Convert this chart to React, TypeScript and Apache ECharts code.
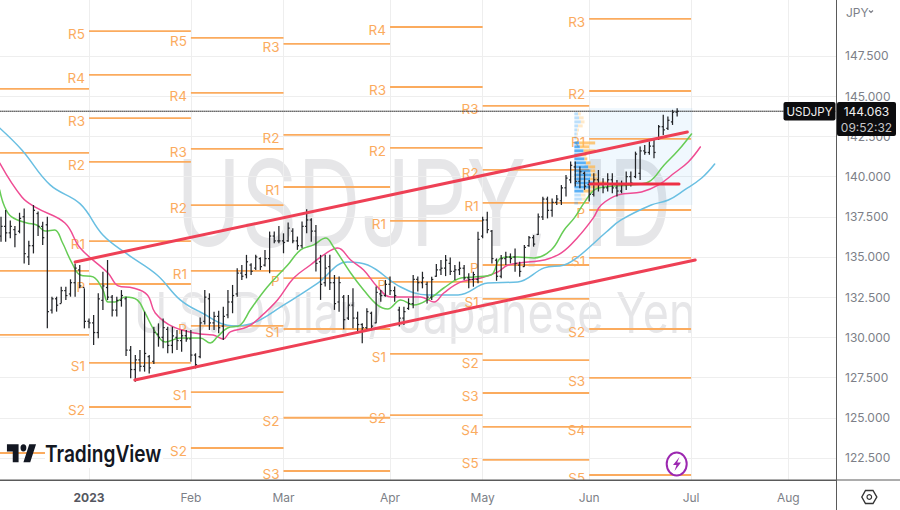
import React, { useEffect, useRef } from "react";
import * as echarts from "echarts";

const firstBar = -19;
const barOpen = [136.3,136.9,136.5,136.7,136.6,137.5,135.0,135.7,137.7,136.9,137.0,131.7,132.4,132.1,132.9,132.7,133.4,134.2,133.1,
131.0,130.9,130.3,132.3,133.1,132.5,131.7,132.3,132.4,129.2,128.0,128.6,128.2,128.8,128.5,130.2,130.0,130.5,129.5,130.0,129.8,130.1,129.9,128.9,128.8,
131.0,132.4,130.9,131.3,130.7,131.4,132.2,132.7,134.0,133.9,134.5,134.3,134.9,134.5,134.9,136.3,136.0,136.0,136.0,136.6,136.0,135.7,136.9,137.3,136.6,134.7,133.4,134.4,133.4,132.2,132.5,131.2,132.0,131.2,130.8,130.6,131.5,130.9,132.7,132.6,133.3,132.9,
131.7,131.2,131.8,132.1,133.6,133.4,133.3,132.5,133.8,134.2,134.3,134.6,134.1,134.2,134.3,133.7,133.6,133.6,136.3,137.3,136.6,134.8,133.8,134.9,135.0,135.0,134.5,134.4,135.7,136.2,136.4,137.5,138.6,137.9,138.4,138.5,139.3,139.8,140.6,139.7,140.2,
139.5,138.9,139.8,139.5,139.3,139.8,139.3,139.1,139.5,140.0,140.0,140.2,141.6,141.5,141.9,142.4,143.1,143.0,143.4,144.0];
const barHigh = [137.50,137.92,137.26,136.92,137.75,138.02,136.01,138.23,137.82,137.19,137.50,132.53,132.53,133.15,133.15,133.61,134.60,134.50,133.05,
131.18,131.39,132.74,134.08,134.81,132.63,132.53,132.94,132.53,129.46,128.90,129.21,131.60,128.90,130.66,130.87,131.18,130.66,130.66,130.46,130.46,130.46,130.46,129.01,131.24,
132.94,132.74,131.60,131.66,131.91,132.95,133.26,134.30,134.50,135.13,134.61,135.13,134.98,135.44,136.58,136.58,136.93,136.47,137.14,136.78,136.27,137.20,137.97,137.41,136.99,135.13,135.13,135.13,133.88,133.78,132.64,132.64,133.05,131.60,130.88,131.81,131.60,133.16,132.95,133.57,133.78,133.16,
131.91,131.91,132.43,133.88,133.78,134.08,133.46,133.77,134.56,134.81,135.12,134.97,134.50,134.71,134.50,133.98,134.08,136.57,137.50,137.81,136.67,134.91,135.12,135.33,135.22,135.53,134.71,135.74,136.30,136.36,137.71,138.75,138.75,138.64,138.85,139.47,140.10,140.93,140.93,140.62,140.31,
139.79,140.21,140.41,139.90,140.21,140.21,139.79,139.75,140.31,140.31,141.55,141.87,141.97,142.18,142.32,143.21,143.84,143.73,144.15,144.25];
const barLow = [135.95,135.95,136.16,135.60,136.47,134.60,134.50,135.22,136.30,135.74,130.56,131.49,131.60,132.12,132.32,132.53,132.53,133.05,130.56,
130.56,129.52,129.94,131.70,132.32,131.29,131.29,131.91,128.84,127.45,127.24,127.87,127.87,127.76,128.34,129.42,129.32,129.01,129.01,129.21,129.11,129.73,128.49,128.07,128.70,
130.80,130.46,130.46,130.25,129.84,131.19,131.50,132.53,133.57,133.67,133.88,134.19,134.19,134.40,133.99,135.85,135.85,135.23,135.95,135.85,135.44,135.54,136.47,135.95,134.09,132.33,133.16,132.95,131.71,131.60,130.50,131.08,130.57,130.25,129.63,130.46,130.46,130.88,132.22,132.53,132.64,132.22,
130.67,130.77,131.71,131.81,132.85,133.05,132.11,132.32,133.77,133.88,133.81,133.88,133.57,133.88,133.57,133.05,133.15,133.36,136.16,136.47,134.60,133.52,133.67,134.50,134.60,134.08,133.77,134.39,135.64,135.64,136.36,137.30,137.40,137.50,138.23,138.23,138.76,139.59,139.38,139.27,139.17,
138.45,138.76,139.07,138.96,139.07,138.96,138.76,138.96,139.17,139.38,139.90,139.79,141.35,141.35,141.14,142.28,142.59,142.90,143.21,143.73];
const barClose = [136.9,136.5,136.9,136.4,137.4,135.2,135.7,137.9,136.9,136.2,131.6,132.4,132.0,132.9,132.6,133.4,134.3,133.2,131.0,
130.9,130.3,132.4,133.2,132.5,131.7,132.3,132.6,129.2,128.0,128.6,128.2,129.0,128.1,130.3,130.0,130.6,129.5,130.1,129.8,130.1,129.9,128.9,128.3,130.9,
132.5,130.9,131.3,130.6,131.3,132.2,132.6,134.0,133.8,134.7,134.1,135.0,134.4,134.9,136.3,136.0,136.0,135.9,136.8,136.0,135.7,136.9,137.3,136.6,134.6,133.3,134.3,133.4,132.1,133.4,131.1,132.0,131.2,130.8,130.6,131.6,130.7,132.8,132.6,133.3,132.9,132.6,
131.2,131.6,132.1,133.6,133.4,133.7,132.5,133.6,134.2,134.3,134.8,134.1,134.2,134.3,133.7,133.6,133.9,136.1,137.3,136.7,134.9,133.8,134.9,135.0,134.9,134.6,134.1,135.6,136.2,135.8,137.5,138.6,137.9,138.4,138.6,139.3,139.9,140.7,139.7,140.3,139.4,
138.9,139.8,139.5,139.3,139.8,139.3,139.1,139.5,140.0,139.6,141.4,141.6,141.5,141.9,141.5,143.1,142.9,143.5,144.0,144.06];

const maGreen = [[-19.3,139.17],[-18.2,138.11],[-16.7,137.49],[-13.4,137.11],[-11.3,136.99],[-9.5,136.62],[-7.4,136.68],[-5.8,135.93],[-3.7,134.63],[-1.9,133.88],[0.9,133.76],[3,132.95],[4.1,132.2],[5.6,132.2],[7.8,132.51],[10.4,132.33],[12.1,131.52],[14.3,130.34],[16.5,129.71],[19.7,129.96],[24,129.96],[26.2,129.65],[27.7,130.03],[29.9,130.58],[32.7,130.77],[34.8,131.7],[38.5,133.13],[42.9,134.5],[45.7,135.44],[48.5,135.75],[51.1,136.18],[52.8,135.62],[56.5,134.0],[59.3,132.95],[62.3,132.01],[64.5,131.77],[67.3,132.33],[70.1,132.01],[73.8,132.45],[76.6,133.07],[80.3,133.69],[83.1,133.76],[86.8,133.88],[89,134.94],[92.6,135.0],[96.1,134.94],[99.8,135.43],[102.6,136.68],[104.8,137.43],[106.9,138.36],[109.1,139.17],[111.3,139.35],[117.1,139.48],[120.8,139.66],[124.2,140.72],[127.3,141.65],[130.1,142.65]];
const maPink = [[-19.3,140.85],[-14.5,138.73],[-11.3,138.05],[-5.2,137.11],[-1.9,135.56],[4.1,134.0],[6.3,133.2],[9.5,133.07],[12.6,132.64],[14.3,131.52],[18.2,130.65],[24,130.21],[26.8,130.15],[29,129.9],[30.5,130.34],[34.2,130.65],[37,131.27],[40.7,132.33],[44.2,133.69],[47.8,134.5],[50.6,135.12],[53.7,135.56],[56.5,134.81],[59.3,134.19],[62.3,133.13],[65.2,132.51],[71.6,132.51],[74.5,132.2],[76.6,132.76],[80.3,133.45],[84.6,133.69],[88.3,134.07],[90.5,134.5],[94.8,134.69],[98.3,134.81],[102,135.25],[105.6,136.24],[108.9,137.43],[110.6,138.23],[114.3,138.86],[119.3,139.04],[123,139.48],[126.4,140.22],[129.4,140.91],[132,141.84]];
const maBlue = [[-19.3,143.02],[-14.5,141.65],[-8.4,139.48],[-1.9,138.3],[3,136.37],[8.2,135.19],[14.7,133.88],[19.7,132.33],[24,131.58],[31.2,130.71],[34.8,130.83],[42,132.01],[49.4,133.38],[55.8,134.69],[60.2,134.5],[67.3,133.13],[73.2,132.64],[79.7,132.64],[86.1,133.38],[92.6,133.45],[98.3,134.32],[102.6,134.5],[105.6,135.0],[111.7,136.55],[114.9,137.3],[121.4,138.23],[125.1,138.54],[128.6,139.17],[132.3,139.91],[135.1,140.78]];

const channelUpper = [[-3,134.69],[129.2,142.77]];
const channelLower = [[9.9,127.35],[130.9,134.81]];
const pocLine = [[108.2,139.54],[127.4,139.54]];
const lastPrice = 144.063;

const pivotDec = [["",145.45],["",141.47],["",134.13],["",130.15],["",122.81]];
const pivotJan = [["R5",149.05],["R4",146.32],["R3",143.64],["R2",140.91],["R1",135.99],["P",133.32],["S1",128.41],["S2",125.67]];
const pivotFeb = [["R5",148.62],["R4",145.2],["R3",141.72],["R2",138.23],["R1",134.13],["P",130.71],["S1",126.6],["S2",123.12]];
const pivotMar = [["R3",148.25],["R2",142.59],["R1",139.35],["P",133.69],["S1",130.52],["S2",125.0],["S3",121.69]];
const pivotApr = [["R4",149.3],["R3",145.57],["R2",141.78],["R1",137.24],["P",133.45],["S1",128.97],["S2",125.17]];
const pivotMay = [["R3",144.39],["R2",140.41],["R1",138.36],["P",134.5],["S1",132.39],["S2",128.59],["S3",126.54],["S4",124.43],["S5",122.38]];
const pivotJun = [["R3",149.8],["R2",145.32],["R1",142.34],["P",137.92],["S1",134.94],["S2",130.52],["S3",127.48],["S4",124.43],["S5",121.44]];

const xMin = -19.22;
const xMax = 161.3;
const yMin = 121.13;
const yMax = 150.98;
const monthTicks = [0,22,42,65,85,108,130,151];
const monthLabels = ["2023","Feb","Mar","Apr","May","Jun","Jul","Aug"];
const priceTicks = [122.5,125,127.5,130,132.5,135,137.5,140,142.5,145,147.5];

const vpStart = 104.8;
const vpPrice = [143.9,143.65,143.4,143.15,142.9,142.65,142.4,142.09,141.85,141.6,141.35,141.1,140.85,140.6,140.35,140.1,139.85,139.6,139.35,139.1,138.85,138.6,138.35];
const vpBlue = [0.8,1,1.4,0.8,0.6,0.5,0.4,1,1.2,2,1.6,2.2,2.5,3,3.5,3.6,3.4,4,3.5,2,1.4,1.6,0.8];
const vpGold = [0.6,1,0.8,1,0.4,0.3,0.2,3.5,2,2.6,1,0.6,1,1.5,1,1.2,1.6,3,2,2,1,1.2,0.6];
const vpFaint = [1,1,1,1,1,1,1,0,0,0,0,0,0,0,0,0,0,0,0,0,1,1,1];
const vpBox = [108, 130.3, 144.27, 138.23];

echarts.graphic.registerShape("tvglyph", echarts.graphic.extendPath("M14 6H2v6h6v9h6V6Zm12 15h-7l6-15h7l-6 15Zm-7-9a3 3 0 1 0 0-6 3 3 0 0 0 0 6Z", {}));

const PIVOT = "#fbab5e";
const FONT = "Inter, Roboto, sans-serif";

function pivotRows() {
  const cols: [number, number, any[]][] = [
    [xMin, monthTicks[0], pivotDec], [monthTicks[0], monthTicks[1], pivotJan], [monthTicks[1], monthTicks[2], pivotFeb],
    [monthTicks[2], monthTicks[3], pivotMar], [monthTicks[3], monthTicks[4], pivotApr], [monthTicks[4], monthTicks[5], pivotMay], [monthTicks[5], monthTicks[6], pivotJun],
  ];
  const rows: any[] = [];
  cols.forEach(([a, b, list]) => list.forEach(([label, p]) => rows.push([a, b, p, label])));
  return rows;
}

function lineSeries(data: number[][], color: string, width: number, z: number, smooth: number | boolean = false, type = "solid") {
  return { type: "line", data, showSymbol: false, silent: true, smooth, z, clip: true, lineStyle: { color, width, type, cap: "round" } };
}

export default function App() {
  const ref = useRef<HTMLDivElement>(null);
  useEffect(() => {
    const chart = echarts.init(ref.current!, undefined, { renderer: "svg" });
    const ohlc = barOpen.map((o, k) => [firstBar + k, o, barHigh[k], barLow[k], barClose[k]]);
    chart.setOption({
      animation: false,
      backgroundColor: "#ffffff",
      grid: { left: 0, top: 0, width: 836, height: 480, containLabel: false },
      xAxis: {
        type: "value", min: xMin, max: xMax, position: "bottom",
        axisLine: { show: true, onZero: false, lineStyle: { color: "#5a5a5a", width: 1 } },
        axisTick: { show: false, customValues: monthTicks },
        splitLine: { show: true, lineStyle: { color: "#eeeeee", width: 1 } },
        axisLabel: {
          customValues: monthTicks, margin: 11, color: "#7d7f88", fontFamily: FONT, fontSize: 12,
          formatter: (v: number) => { const t = monthLabels[monthTicks.indexOf(v)]; return t === "2023" ? "{b|2023}" : t; },
          rich: { b: { fontWeight: 700, color: "#55575f", fontFamily: FONT, fontSize: 12 } },
        },
      },
      yAxis: {
        type: "value", min: yMin, max: yMax, position: "right",
        axisLine: { show: true, onZero: false, lineStyle: { color: "#5a5a5a", width: 1 } },
        axisTick: { show: false, customValues: priceTicks },
        splitLine: { show: true, lineStyle: { color: "#eeeeee", width: 1 } },
        axisLabel: { customValues: priceTicks, margin: 9, color: "#7d7f88", fontFamily: FONT, fontSize: 12, formatter: (v: number) => v.toFixed(3) },
      },
      series: [
        {
          type: "custom", z: 1, silent: true, clip: true, data: [vpBox],
          renderItem: (_: any, api: any) => {
            const a = api.coord([api.value(0), api.value(2)]);
            const b = api.coord([api.value(1), api.value(3)]);
            return { type: "rect", shape: { x: a[0], y: a[1], width: b[0] - a[0], height: b[1] - a[1] }, style: { fill: "rgba(33,150,243,0.065)" } };
          },
        },
        {
          type: "custom", z: 2, silent: true, clip: true, data: pivotRows(),
          renderItem: (_: any, api: any) => {
            const a = api.coord([api.value(0), api.value(2)]);
            const b = api.coord([api.value(1), api.value(2)]);
            const label = api.value(3);
            const children: any[] = [{ type: "line", shape: { x1: a[0], y1: a[1], x2: b[0], y2: b[1] }, style: { stroke: PIVOT, lineWidth: 1.8 } }];
            if (label) children.push({ type: "text", style: { text: label, x: a[0] - 4, y: a[1] + 3, align: "right", verticalAlign: "middle", fill: PIVOT, font: `13.5px ${FONT}` } });
            return { type: "group", children };
          },
        },
        lineSeries([[xMin, lastPrice], [xMax, lastPrice]], "#333333", 1, 3, false, "dotted"),
        lineSeries(maBlue, "#69bfe2", 1.5, 3, 0.4),
        lineSeries(maPink, "#ef4c93", 1.5, 3, 0.4),
        lineSeries(maGreen, "#66cc55", 1.5, 3, 0.4),
        {
          type: "custom", z: 3, silent: true, clip: true,
          data: vpPrice.map((p, k) => [vpStart, p, vpBlue[k], vpGold[k], vpFaint[k]]),
          renderItem: (_: any, api: any) => {
            const a = api.coord([api.value(0), api.value(1)]);
            const b = api.coord([api.value(0) + api.value(2), api.value(1)]);
            const c = api.coord([api.value(0) + api.value(2) + api.value(3), api.value(1)]);
            const alpha = api.value(4) ? 0.3 : 0.75;
            return {
              type: "group", children: [
                { type: "rect", shape: { x: a[0], y: a[1] - 1.5, width: b[0] - a[0], height: 3 }, style: { fill: `rgba(33,150,243,${alpha})` } },
                { type: "rect", shape: { x: b[0], y: a[1] - 1.5, width: c[0] - b[0], height: 3 }, style: { fill: `rgba(255,183,77,${alpha})` } },
              ],
            };
          },
        },
        {
          type: "custom", z: 4, silent: true, clip: true, data: ohlc,
          encode: { x: 0, y: [1, 2, 3, 4] },
          renderItem: (_: any, api: any) => {
            const i = api.value(0);
            const o = api.coord([i, api.value(1)]);
            const h = api.coord([i, api.value(2)]);
            const l = api.coord([i, api.value(3)]);
            const c = api.coord([i, api.value(4)]);
            const s = { stroke: "#222428", lineWidth: 1.25 };
            return {
              type: "group", children: [
                { type: "line", shape: { x1: h[0], y1: h[1], x2: l[0], y2: l[1] }, style: s },
                { type: "line", shape: { x1: o[0] - 1.6, y1: o[1], x2: o[0], y2: o[1] }, style: s },
                { type: "line", shape: { x1: c[0], y1: c[1], x2: c[0] + 1.6, y2: c[1] }, style: s },
              ],
            };
          },
        },
        lineSeries(channelUpper, "#ee4055", 3, 5),
        lineSeries(channelLower, "#ee4055", 3, 5),
        lineSeries(pocLine, "#ee2f45", 3, 5),
      ],
      graphic: [
        { type: "text", z: -1, x: 176, y: 142, scaleX: 0.73, style: { text: "USDJPY, 1D", fill: "#e6e6e8", font: `120px ${FONT}` } },
        { type: "text", z: -1, x: 134, y: 285, scaleX: 0.8, style: { text: "U.S. Dollar / Japanese Yen", fill: "#e6e6e8", font: `56px ${FONT}` } },

        { type: "rect", z: 20, shape: { x: 45, y: 442, width: 118, height: 26 }, style: { fill: "#ffffff" } },
        { type: "tvglyph", z: 21, x: 5, y: 437, scaleX: 0.97, scaleY: 1.2, style: { fill: "#131722" } },
        { type: "text", z: 21, x: 45, y: 442, scaleX: 0.83, style: { text: "TradingView", fill: "#131722", font: `600 23px ${FONT}` } },

        { type: "ellipse", z: 20, shape: { cx: 676.7, cy: 464, rx: 10, ry: 11.5 }, style: { fill: "#ffffff", stroke: "#9c27b0", lineWidth: 2 } },
        { type: "polygon", z: 21, shape: { points: [[679.5, 457], [673, 465], [676.5, 465], [674.5, 471], [681, 462.5], [677.2, 462.5]] }, style: { fill: "#9c27b0" } },

        { type: "line", z: 20, shape: { x1: 836.5, y1: 0, x2: 836.5, y2: 510 }, style: { stroke: "#5a5a5a", lineWidth: 1 } },
        { type: "line", z: 20, shape: { x1: 0, y1: 480, x2: 900, y2: 480 }, style: { stroke: "#5a5a5a", lineWidth: 1 } },
        { type: "polygon", z: 21, shape: { points: [[861.8, 497], [865.5, 490.5], [873, 490.5], [876.8, 497], [873, 503.5], [865.5, 503.5]] }, style: { fill: "#ffffff", stroke: "#333333", lineWidth: 1.4 } },
        { type: "circle", z: 21, shape: { cx: 869.3, cy: 497, r: 2.3 }, style: { fill: "#ffffff", stroke: "#333333", lineWidth: 1.2 } },

        { type: "text", z: 21, x: 846, y: 6, style: { text: "JPY", fill: "#7d7f88", font: `12px ${FONT}` } },
        { type: "polyline", z: 21, shape: { points: [[869, 10.5], [871, 12.5], [873, 10.5]] }, style: { stroke: "#7d7f88", lineWidth: 1.2, fill: "none" } },

        { type: "rect", z: 22, shape: { x: 783.5, y: 102, width: 52, height: 18.5, r: 2 }, style: { fill: "#0c0c0e" } },
        { type: "text", z: 23, x: 809.5, y: 111.5, style: { text: "USDJPY", fill: "#f0f0f0", font: `11.5px ${FONT}`, align: "center", verticalAlign: "middle" } },
        { type: "rect", z: 22, shape: { x: 837, y: 102, width: 59, height: 34, r: 2 }, style: { fill: "#0c0c0e" } },
        { type: "text", z: 23, x: 866.5, y: 111.5, style: { text: "144.063", fill: "#f0f0f0", font: `12px ${FONT}`, align: "center", verticalAlign: "middle" } },
        { type: "text", z: 23, x: 866.5, y: 127, style: { text: "09:52:32", fill: "#c4c4c8", font: `12px ${FONT}`, align: "center", verticalAlign: "middle" } },
      ],
    });
    return () => chart.dispose();
  }, []);
  return <div ref={ref} style={{ position: "absolute", left: 0, top: 0, width: 900, height: 510 }} />;
}
